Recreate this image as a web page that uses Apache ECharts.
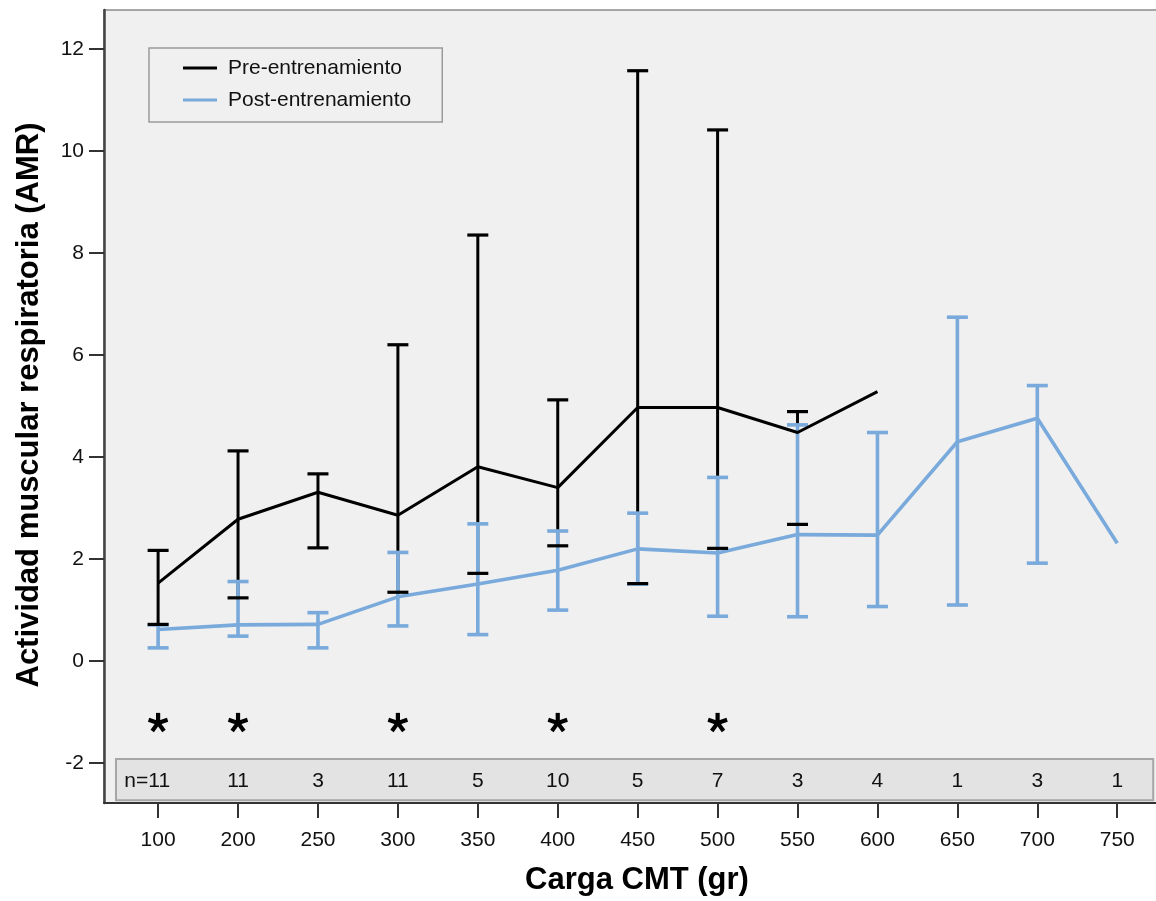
<!DOCTYPE html>
<html>
<head>
<meta charset="utf-8">
<script src="https://cdn.jsdelivr.net/npm/echarts@6/dist/echarts.min.js"></script>
<style>
  html, body { margin: 0; padding: 0; background: #ffffff; }
  #chart { width: 1156px; height: 901px; }
</style>
</head>
<body>
<div id="chart"></div>
<script>
// Load levels (CMT, grams) shown as categories on the x axis
const loads = ['100', '200', '250', '300', '350', '400', '450', '500', '550', '600', '650', '700', '750'];
// Number of subjects at each load
const nCounts = [11, 11, 3, 11, 5, 10, 5, 7, 3, 4, 1, 3, 1];

// Pre-training: mean and error-bar limits (AMR)
const preMean = [1.53, 2.78, 3.31, 2.86, 3.81, 3.40, 4.97, 4.97, 4.48, 5.28, null, null, null];
const preLow  = [0.72, 1.24, 2.22, 1.35, 1.72, 2.26, 1.52, 2.21, 2.68, null, null, null, null];
const preHigh = [2.17, 4.12, 3.67, 6.20, 8.35, 5.12, 11.57, 10.41, 4.89, null, null, null, null];

// Post-training: mean and error-bar limits (AMR)
const postMean = [0.62, 0.71, 0.72, 1.26, 1.51, 1.78, 2.20, 2.12, 2.48, 2.47, 4.30, 4.76, 2.31];
const postLow  = [0.26, 0.49, 0.26, 0.69, 0.52, 1.00, 1.51, 0.88, 0.87, 1.07, 1.10, 1.92, null];
const postHigh = [0.71, 1.56, 0.95, 2.13, 2.69, 2.55, 2.90, 3.60, 4.63, 4.48, 6.74, 5.40, null];

// Loads with a significant pre/post difference (marked with *)
const significantLoads = ['100', '200', '300', '400', '500'];

// Y axis tick values
const yTicks = [-2, 0, 2, 4, 6, 8, 10, 12];

const FONT = '"Liberation Sans", Arial, Helvetica, sans-serif';
const BLACK = '#000000';
const BLUE = '#79aadb';

const xIdx = loads.map((_, i) => i);
const pairs = (arr) => arr.map((v, i) => [i, v]);
const ranges = (lo, hi) => lo.map((v, i) => [i, v, hi[i]]).filter(d => d[1] != null && d[2] != null);

// Vertical part of an error bar
function verticalRenderer(color, width) {
  return function (params, api) {
    const a = api.coord([api.value(0), api.value(1)]);
    const b = api.coord([api.value(0), api.value(2)]);
    return {
      type: 'line',
      shape: { x1: a[0], y1: a[1], x2: b[0], y2: b[1] },
      style: { stroke: color, lineWidth: width }
    };
  };
}
// End caps of an error bar
function capRenderer(color, width, half) {
  return function (params, api) {
    const a = api.coord([api.value(0), api.value(1)]);
    const b = api.coord([api.value(0), api.value(2)]);
    return {
      type: 'group',
      children: [
        { type: 'line', shape: { x1: a[0] - half, y1: a[1], x2: a[0] + half, y2: a[1] }, style: { stroke: color, lineWidth: width } },
        { type: 'line', shape: { x1: b[0] - half, y1: b[1], x2: b[0] + half, y2: b[1] }, style: { stroke: color, lineWidth: width } }
      ]
    };
  };
}
// Full error bar (vertical + caps)
function fullBarRenderer(color, width, half) {
  const v = verticalRenderer(color, width);
  const c = capRenderer(color, width, half);
  return function (params, api) {
    return { type: 'group', children: [v(params, api), c(params, api)] };
  };
}

const chart = echarts.init(document.getElementById('chart'), null, { renderer: 'canvas' });

const option = {
  backgroundColor: '#ffffff',
  animation: false,
  textStyle: { fontFamily: FONT },
  grid: {
    left: 104, right: -2, top: 10, bottom: 98,
    show: true, backgroundColor: '#f0f0f0', borderColor: '#8c8c8c', borderWidth: 1.5,
    containLabel: false, outerBoundsMode: 'none'
  },
  legend: {
    data: ['Pre-entrenamiento', 'Post-entrenamiento'],
    orient: 'vertical', left: 149, top: 48,
    padding: [8, 31, 10, 34], itemGap: 8,
    itemWidth: 34, itemHeight: 3, icon: 'rect',
    backgroundColor: '#f0f0f0', borderColor: '#9a9a9a', borderWidth: 1.5,
    textStyle: { fontFamily: FONT, fontSize: 21, color: '#111', lineHeight: 24, padding: [0, 0, 0, 6] }
  },
  xAxis: {
    type: 'value', min: -0.677, max: 12.51,
    axisLine: { show: true, onZero: false, lineStyle: { color: '#333', width: 2 } },
    axisTick: { show: true, customValues: xIdx, length: 15, lineStyle: { color: '#333', width: 2 } },
    axisLabel: {
      customValues: xIdx, margin: 27,
      formatter: (v) => loads[Math.round(v)],
      fontFamily: FONT, fontSize: 21, color: '#111'
    },
    splitLine: { show: false }
  },
  yAxis: {
    type: 'value', min: -2.78, max: 12.76,
    axisLine: { show: true, onZero: false, lineStyle: { color: '#444', width: 2.5 } },
    axisTick: { show: true, customValues: yTicks, length: 15, lineStyle: { color: '#333', width: 2 } },
    axisLabel: {
      customValues: yTicks, margin: 20,
      fontFamily: FONT, fontSize: 21, color: '#111'
    },
    splitLine: { show: false }
  },
  graphic: [
    {
      type: 'text', x: 637, y: 880,
      style: { text: 'Carga CMT (gr)', font: 'bold 31px ' + FONT, fill: '#000', align: 'center', verticalAlign: 'middle' }
    },
    {
      type: 'text', x: 29, y: 405, rotation: Math.PI / 2,
      style: { text: 'Actividad muscular respiratoria (AMR)', font: 'bold 31px ' + FONT, fill: '#000', align: 'center', verticalAlign: 'middle' }
    }
  ],
  series: [
    // band holding the sample sizes
    {
      type: 'custom', silent: true, z: 1,
      data: [[-0.527, 12.45, -1.92, -2.725]],
      renderItem: function (params, api) {
        const p1 = api.coord([api.value(0), api.value(2)]);
        const p2 = api.coord([api.value(1), api.value(3)]);
        return {
          type: 'rect',
          shape: { x: p1[0], y: p1[1], width: p2[0] - p1[0], height: p2[1] - p1[1] },
          style: { fill: '#e3e3e3', stroke: '#a6a6a6', lineWidth: 2 }
        };
      }
    },
    // sample sizes
    {
      type: 'custom', silent: true, z: 2,
      data: nCounts.map((n, i) => [i, -2.353, n]),
      renderItem: function (params, api) {
        const p = api.coord([api.value(0), api.value(1)]);
        const first = params.dataIndex === 0;
        return {
          type: 'text',
          style: {
            text: (first ? 'n=' : '') + api.value(2),
            x: first ? p[0] + 12 : p[0], y: p[1],
            align: first ? 'right' : 'center', verticalAlign: 'middle',
            font: '21px ' + FONT, fill: '#111'
          }
        };
      }
    },
    // significance markers
    {
      type: 'custom', silent: true, z: 2,
      data: significantLoads.map(l => [loads.indexOf(l), -1.21]),
      renderItem: function (params, api) {
        const p = api.coord([api.value(0), api.value(1)]);
        const r = 10;
        const arms = [90, 18, 162, 234, 306].map(deg => {
          const a = deg * Math.PI / 180;
          return {
            type: 'line',
            shape: { x1: p[0], y1: p[1], x2: p[0] + r * Math.cos(a), y2: p[1] - r * Math.sin(a) },
            style: { stroke: '#000', lineWidth: 4.2, lineCap: 'butt' }
          };
        });
        return { type: 'group', children: arms };
      }
    },
    // pre-training error bar stems
    {
      type: 'custom', silent: true, z: 3,
      data: ranges(preLow, preHigh),
      renderItem: verticalRenderer(BLACK, 3)
    },
    // post-training error bars
    {
      type: 'custom', silent: true, z: 4,
      data: ranges(postLow, postHigh),
      renderItem: fullBarRenderer(BLUE, 3.6, 10.5)
    },
    {
      name: 'Post-entrenamiento', type: 'line', z: 5,
      data: pairs(postMean), showSymbol: false, symbol: 'none',
      lineStyle: { color: BLUE, width: 3.6 }, itemStyle: { color: BLUE },
      connectNulls: false
    },
    {
      name: 'Pre-entrenamiento', type: 'line', z: 6,
      data: pairs(preMean), showSymbol: false, symbol: 'none',
      lineStyle: { color: BLACK, width: 3 }, itemStyle: { color: BLACK },
      connectNulls: false
    },
    // pre-training error bar caps
    {
      type: 'custom', silent: true, z: 7,
      data: ranges(preLow, preHigh),
      renderItem: capRenderer(BLACK, 3.2, 10.5)
    }
  ]
};

chart.setOption(option);
</script>
</body>
</html>
